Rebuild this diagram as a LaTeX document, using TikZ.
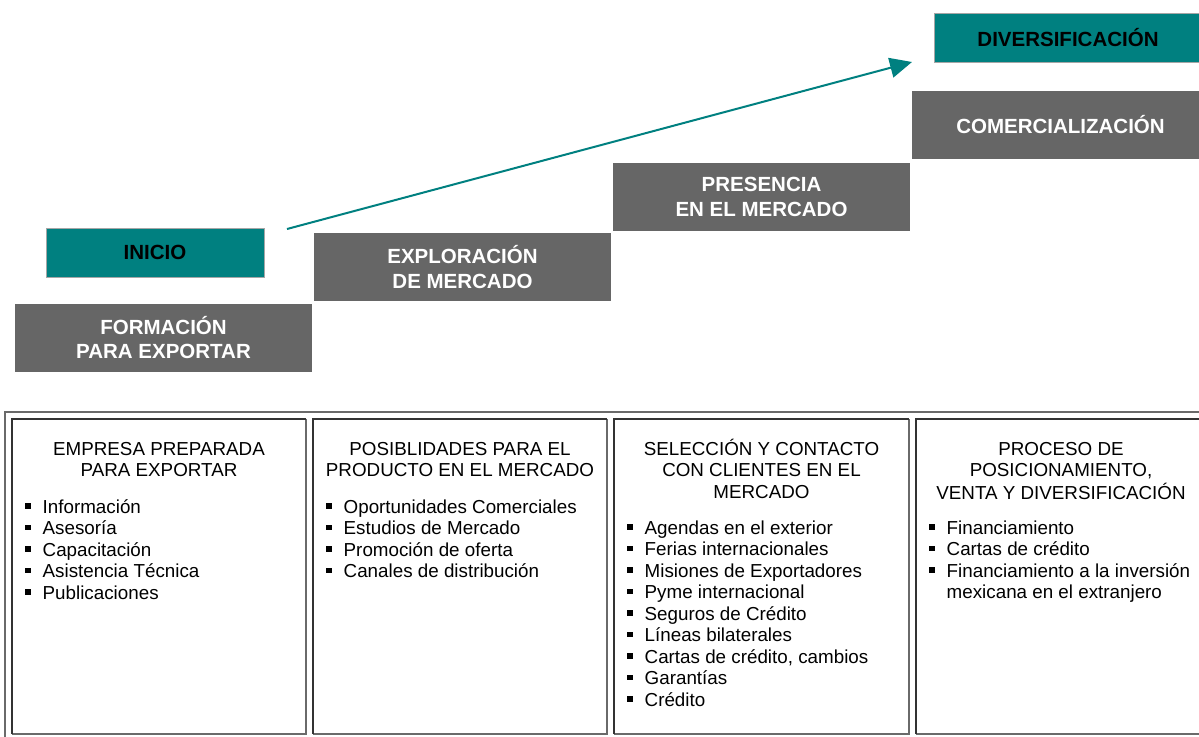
\documentclass[tikz,border=0pt]{standalone}
\usepackage{fontspec}
\setmainfont{Liberation Sans}
\usetikzlibrary{arrows.meta}
\definecolor{tealbox}{HTML}{008080}
\definecolor{boxgray}{HTML}{666666}
\definecolor{framegray}{HTML}{6A6A6A}
\definecolor{darkline}{HTML}{333333}
\newcommand{\bul}{\makebox[17.5pt][l]{\rule[4.5pt]{5.5pt}{5.5pt}}}
\tikzset{
  stage/.style={fill=boxgray, draw=none, text=white, font=\bfseries\fontsize{20.5}{24.5}\selectfont, align=center, inner sep=0pt, minimum width=297pt, minimum height=68pt},
  tealstage/.style={fill=tealbox, draw=gray!70, line width=1pt, text=black, font=\bfseries\fontsize{20.5}{24.5}\selectfont, align=center, inner sep=0pt, minimum height=49pt},
  head/.style={font=\fontsize{18.8}{21.5}\selectfont, inner sep=0pt, anchor=base},
  items/.style={font=\fontsize{18.8}{21.5}\selectfont, inner sep=0pt, anchor=base west},
  cell/.style={draw=none, inner sep=0pt},
  darkedge/.style={draw=darkline, line width=2.2pt},
  lightedge/.style={draw=framegray, line width=2.2pt},
  arrowline/.style={draw=tealbox, line width=2pt, -{Triangle[length=22pt,width=20pt]}}
}
\begin{document}
\begin{tikzpicture}[x=1pt,y=-1pt]
\useasboundingbox (0,0) rectangle (1199,736);
% top stages
\node[stage] (formacion) at (163.5,337.5) {FORMACIÓN\\PARA EXPORTAR};
\node[stage] (exploracion) at (462.5,267) {EXPLORACIÓN\\DE MERCADO};
\node[stage] (presencia) at (761.5,197) {PRESENCIA\\EN EL MERCADO};
\node[stage] (comercial) at (1060.5,125) {COMERCIALIZACIÓN};
\node[tealstage, minimum width=218pt] (inicio) at (155,252.5) {INICIO};
\node[tealstage, minimum width=268pt] (divers) at (1068,37.5) {DIVERSIFICACIÓN};
\coordinate (astart) at (287,229);
\coordinate (aend) at (912,62);
\draw[arrowline] (astart) -- (aend);
% bottom frame
\draw[line width=2.5pt, draw=framegray] (5,412) rectangle (1240,760);
\foreach \l/\r/\n in {12/306/c1, 313/607/c2, 614/909/c3, 916/1215/c4}{
  \node[cell, minimum width=\r pt-\l pt, minimum height=315pt] (\n) at ({(\l+\r)/2},576.5) {};
  \draw[lightedge] (\n.north east) -- (\n.south east) -- (\n.south west);
  \draw[darkedge] (\n.south west) -- (\n.north west) -- (\n.north east);
}
% headings
\node[head] (h1) at (159,455) {\begin{tabular}[t]{@{}c@{}}EMPRESA PREPARADA\\PARA EXPORTAR\end{tabular}};
\node[head] (h2) at (460,455) {\begin{tabular}[t]{@{}c@{}}POSIBLIDADES PARA EL\\PRODUCTO EN EL MERCADO\end{tabular}};
\node[head] (h3) at (761.5,455) {\begin{tabular}[t]{@{}c@{}}SELECCIÓN Y CONTACTO\\CON CLIENTES EN EL\\MERCADO\end{tabular}};
\node[head] (h4) at (1061,455) {\begin{tabular}[t]{@{}c@{}}PROCESO DE\\POSICIONAMIENTO,\\VENTA Y DIVERSIFICACIÓN\end{tabular}};
% lists
\node[items] (l1) at (25,513) {\begin{tabular}[t]{@{}l@{}}\bul Información\\\bul Asesoría\\\bul Capacitación\\\bul Asistencia Técnica\\\bul Publicaciones\end{tabular}};
\node[items] (l2) at (326,513) {\begin{tabular}[t]{@{}l@{}}\bul Oportunidades Comerciales\\\bul Estudios de Mercado\\\bul Promoción de oferta\\\bul Canales de distribución\end{tabular}};
\node[items] (l3) at (627,534) {\begin{tabular}[t]{@{}l@{}}\bul Agendas en el exterior\\\bul Ferias internacionales\\\bul Misiones de Exportadores\\\bul Pyme internacional\\\bul Seguros de Crédito\\\bul Líneas bilaterales\\\bul Cartas de crédito, cambios\\\bul Garantías\\\bul Crédito\end{tabular}};
\node[items] (l4) at (929,534) {\begin{tabular}[t]{@{}l@{}}\bul Financiamiento\\\bul Cartas de crédito\\\bul Financiamiento a la inversión\\\hspace*{17.5pt}mexicana en el extranjero\end{tabular}};
\end{tikzpicture}
\end{document}
